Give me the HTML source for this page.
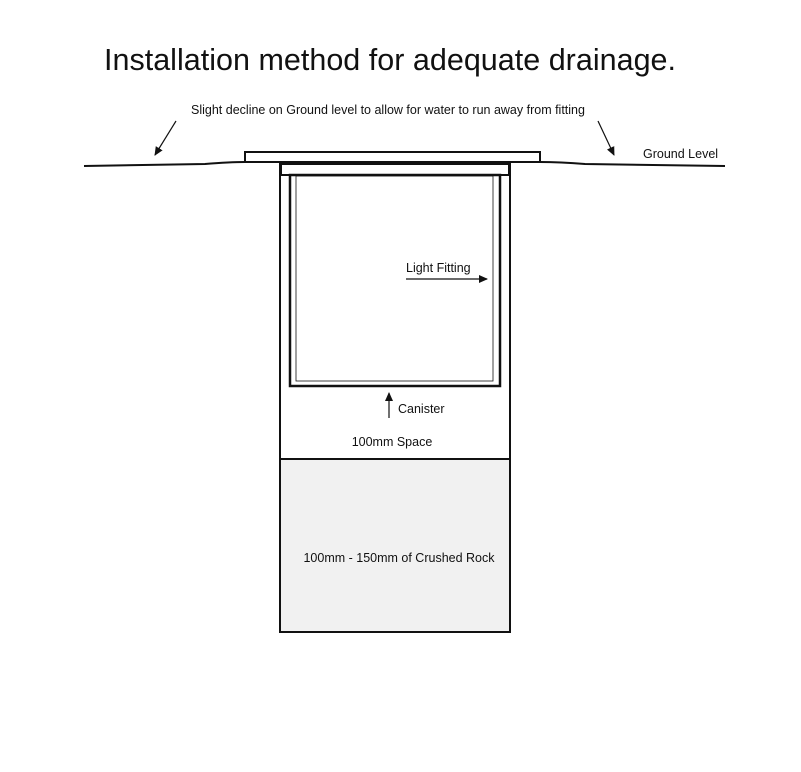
<!DOCTYPE html>
<html><head><meta charset="utf-8"><style>
html,body{margin:0;padding:0;background:#fff;}
svg{display:block;}
text{font-family:"Liberation Sans",sans-serif;fill:#111;}
</style></head><body>
<svg width="801" height="772" viewBox="0 0 801 772" xmlns="http://www.w3.org/2000/svg">
<defs><marker id="a" markerWidth="10" markerHeight="10" refX="8" refY="4" orient="auto" markerUnits="userSpaceOnUse"><path d="M0,0 L9,4 L0,8 Z" fill="#111"/></marker></defs>
<text x="390" y="70" font-size="30.5" text-anchor="middle" textLength="572">Installation method for adequate drainage.</text>
<text x="388" y="114" font-size="12.5" text-anchor="middle">Slight decline on Ground level to allow for water to run away from fitting</text>
<text x="643" y="158" font-size="12.5">Ground Level</text>
<line x1="176" y1="121" x2="155" y2="155" stroke="#111" stroke-width="1.2" marker-end="url(#a)"/>
<line x1="598" y1="121" x2="614" y2="155" stroke="#111" stroke-width="1.2" marker-end="url(#a)"/>
<path d="M84,166 L205,164 Q230,162 245,162" fill="none" stroke="#111" stroke-width="2"/>
<path d="M540,162 Q560,162 585,164 L725,166" fill="none" stroke="#111" stroke-width="2"/>
<rect x="280" y="459" width="230" height="173" fill="#f1f1f1"/>
<rect x="280" y="163" width="230" height="469" fill="none" stroke="#111" stroke-width="2"/>
<line x1="280" y1="459" x2="510" y2="459" stroke="#111" stroke-width="2"/>
<rect x="245" y="152" width="295" height="10" fill="#fff" stroke="#111" stroke-width="2"/>
<rect x="281" y="164" width="228" height="11" fill="#fff" stroke="#111" stroke-width="2"/>
<rect x="290" y="175" width="210" height="211" fill="none" stroke="#111" stroke-width="2.5"/>
<rect x="296" y="176" width="197" height="205" fill="none" stroke="#111" stroke-width="0.8"/>
<text x="406" y="272" font-size="12.5">Light Fitting</text>
<line x1="406" y1="279" x2="487" y2="279" stroke="#111" stroke-width="1.2" marker-end="url(#a)"/>
<text x="398" y="413" font-size="12.5">Canister</text>
<line x1="389" y1="418" x2="389" y2="393" stroke="#111" stroke-width="1.2" marker-end="url(#a)"/>
<text x="392" y="446" font-size="12.5" text-anchor="middle">100mm Space</text>
<text x="399" y="562" font-size="12.5" text-anchor="middle">100mm - 150mm of Crushed Rock</text>
</svg>
</body></html>
